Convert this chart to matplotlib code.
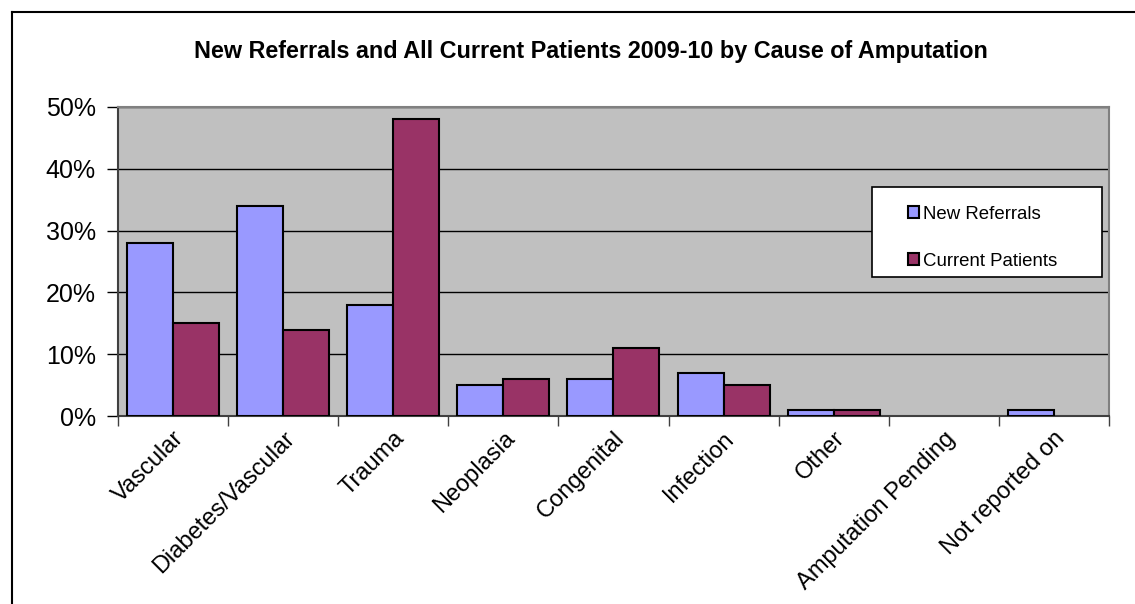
import numpy as np
import matplotlib
matplotlib.use("Agg")
import matplotlib.pyplot as plt
from matplotlib.lines import Line2D
from matplotlib.patches import Rectangle
from matplotlib.ticker import FixedLocator, PercentFormatter

plt.rcParams["font.family"] = ["Liberation Sans", "DejaVu Sans"]

categories = ["Vascular", "Diabetes/Vascular", "Trauma", "Neoplasia", "Congenital",
              "Infection", "Other", "Amputation Pending", "Not reported on"]
new_referrals = [28, 34, 18, 5, 6, 7, 1, 0, 1]
current_patients = [15, 14, 48, 6, 11, 5, 1, 0, 0]
yticks = [0, 10, 20, 30, 40, 50]

fig = plt.figure(figsize=(11.35, 6.04), dpi=100)
ax = fig.add_axes([0.104, 0.311, 0.873, 0.512])
ax.set_facecolor("#C0C0C0")

x = np.arange(len(categories))
w = 0.418
for vals, off, col, lab in [(new_referrals, -w / 2, "#9999FF", "New Referrals"),
                            (current_patients, w / 2, "#993366", "Current Patients")]:
    bars = ax.bar(x + off, vals, w, color=col, edgecolor="black", linewidth=1.5,
                  label=lab, zorder=3)
    for b, v in zip(bars, vals):
        if v == 0:
            b.set_visible(False)

ax.set_xlim(-0.5, len(categories) - 0.5)
ax.set_ylim(0, 50)
ax.set_yticks(yticks)
ax.yaxis.set_major_formatter(PercentFormatter(decimals=0))
ax.grid(axis="y", color="black", linewidth=1, zorder=1)
ax.set_axisbelow(True)

ax.set_xticks(x)
ax.set_xticklabels(categories, rotation=45, ha="right", rotation_mode="anchor", fontsize=17)
ax.xaxis.set_minor_locator(FixedLocator(np.arange(-0.5, len(categories), 1)))
ax.tick_params(axis="x", which="major", length=0, pad=8)
ax.tick_params(axis="x", which="minor", length=7, width=1, color="#404040")
ax.tick_params(axis="y", length=8, width=1, labelsize=18, pad=8)

for s in ["top", "right"]:
    ax.spines[s].set_color("#808080")
    ax.spines[s].set_linewidth(1.5)
for s in ["left", "bottom"]:
    ax.spines[s].set_color("#404040")
    ax.spines[s].set_linewidth(1.5)

# legend box
ax.add_patch(Rectangle((0.761, 0.45), 0.232, 0.291, transform=ax.transAxes,
                       facecolor="white", edgecolor="black", linewidth=1.2, zorder=4))
leg = ax.legend(loc="upper left", bbox_to_anchor=(0.797, 0.68), frameon=False,
                fontsize=13.4, handlelength=0.6, handleheight=0.6, handletextpad=0.2,
                labelspacing=1.6, borderpad=0, borderaxespad=0)
leg.set_zorder(5)

fig.text(0.521, 0.914, "New Referrals and All Current Patients 2009-10 by Cause of Amputation",
         ha="center", va="center", fontsize=16.8, fontweight="bold")

# outer chart frame (top and left edges visible)
fig.add_artist(Line2D([0.0106, 1.0], [0.980, 0.980], transform=fig.transFigure,
                      color="black", linewidth=1.5))
fig.add_artist(Line2D([0.0106, 0.0106], [0.0, 0.980], transform=fig.transFigure,
                      color="black", linewidth=1.5))

fig.savefig("out.png", dpi=100)
